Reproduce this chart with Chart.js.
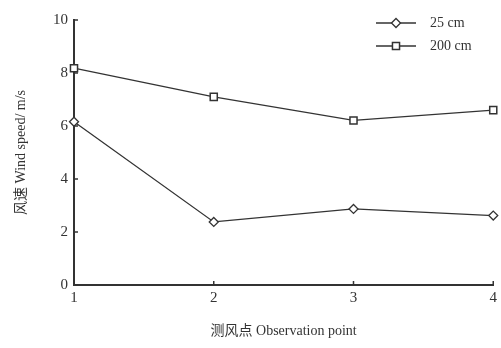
<!DOCTYPE html>
<html><head><meta charset="utf-8">
<script src="https://cdn.jsdelivr.net/npm/chart.js@4/dist/chart.umd.min.js"></script>
<style>html,body{margin:0;padding:0;background:#fff;}#wrap{width:501px;height:348px;}</style>
</head><body><div id="wrap"><canvas id="c" width="501" height="348"></canvas></div>
<script>
const points = [1, 2, 3, 4];
const series25 = [6.16, 2.38, 2.87, 2.62];
const series200 = [8.18, 7.1, 6.21, 6.6];
const seriesNames = ['25 cm', '200 cm'];
const yTicks = [0, 2, 4, 6, 8, 10];
const xTitle = '测风点 Observation point';
const yTitle = '风速 Wind speed/ m/s';

const FONT = "'Liberation Serif', 'Noto Sans CJK SC', serif";
const INK = '#333';

const inwardTicks = {
  id: 'inwardTicks',
  afterDraw(chart) {
    const ctx = chart.ctx, x = chart.scales.x, y = chart.scales.y, a = chart.chartArea;
    ctx.save();
    ctx.strokeStyle = INK; ctx.lineWidth = 1.5;
    yTicks.forEach(v => { const py = y.getPixelForValue(v); ctx.beginPath(); ctx.moveTo(a.left, py); ctx.lineTo(a.left + 4, py); ctx.stroke(); });
    points.forEach(v => { const px = x.getPixelForValue(v); ctx.beginPath(); ctx.moveTo(px, a.bottom); ctx.lineTo(px, a.bottom - 4); ctx.stroke(); });
    const items = chart.data.datasets;
    items.forEach((ds, i) => {
      const ly = 23 + i * 23, lx0 = 376, lx1 = 416;
      ctx.strokeStyle = ds.borderColor; ctx.lineWidth = 1.5;
      ctx.beginPath(); ctx.moveTo(lx0, ly); ctx.lineTo(lx1, ly); ctx.stroke();
      ctx.fillStyle = '#fff'; ctx.strokeStyle = INK; ctx.lineWidth = ds.pointBorderWidth;
      Chart.helpers.drawPoint(ctx, {pointStyle: ds.pointStyle, radius: ds.pointRadius, borderWidth: ds.pointBorderWidth}, (lx0 + lx1) / 2, ly);
      ctx.fillStyle = INK; ctx.font = "14px " + FONT; ctx.textBaseline = 'middle'; ctx.textAlign = 'left';
      ctx.fillText(ds.label, 430, ly);
    });
    ctx.restore();
  }
};

new Chart(document.getElementById('c'), {
  type: 'line',
  data: {
    datasets: [
      { label: seriesNames[0], data: points.map((p, i) => ({x: p, y: series25[i]})), borderColor: INK, backgroundColor: '#fff', clip: false,
        borderWidth: 1.3, pointStyle: 'rectRot', pointRadius: 4.5, pointBorderWidth: 1.3, pointBackgroundColor: '#fff', pointBorderColor: INK },
      { label: seriesNames[1], data: points.map((p, i) => ({x: p, y: series200[i]})), borderColor: INK, backgroundColor: '#fff', clip: false,
        borderWidth: 1.3, pointStyle: 'rect', pointRadius: 5, pointBorderWidth: 1.5, pointBackgroundColor: '#fff', pointBorderColor: INK }
    ]
  },
  options: {
    responsive: false, animation: false,
    layout: { padding: { left: 8, right: 0, top: 20, bottom: 4 } },
    plugins: { legend: { display: false }, tooltip: { enabled: false } },
    scales: {
      x: { type: 'linear', min: 1, max: 4,
        grid: { display: false, drawTicks: false },
        border: { display: true, color: INK, width: 2 },
        afterFit: s => { s.height = 59; },
        ticks: { stepSize: 1, color: INK, font: { family: FONT, size: 15 }, padding: 4, callback: v => points.includes(v) ? String(v) : '' },
        title: { display: true, text: xTitle, color: INK, font: { family: FONT, size: 14 }, padding: { top: 10, bottom: 4 } }
      },
      y: { min: 0, max: 10,
        grid: { display: false, drawTicks: false },
        border: { display: true, color: INK, width: 2 },
        afterFit: s => { s.width = 66; },
        ticks: { stepSize: 2, color: INK, font: { family: FONT, size: 15 }, padding: 6, callback: v => yTicks.includes(v) ? String(v) : '' },
        title: { display: true, text: yTitle, color: INK, font: { family: FONT, size: 14 }, padding: { top: 5, bottom: 6 } }
      }
    }
  },
  plugins: [inwardTicks]
});
</script></body></html>
